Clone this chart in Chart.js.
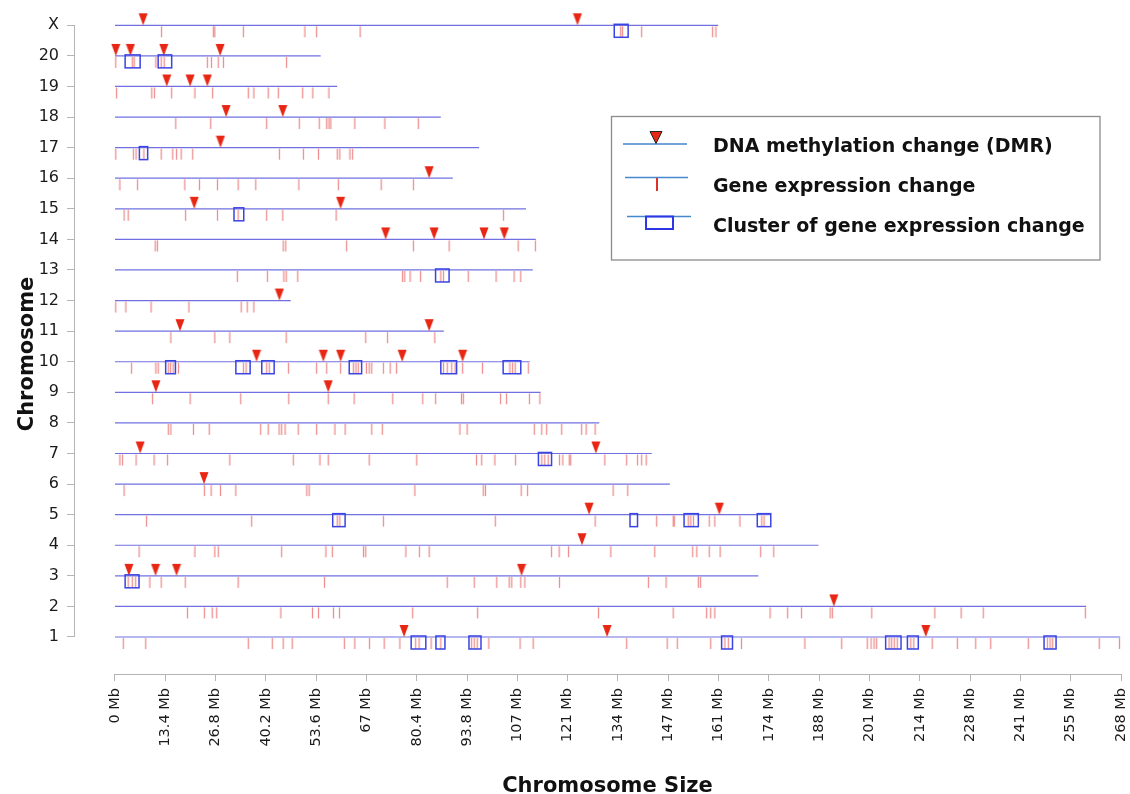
<!DOCTYPE html>
<html>
  <head>
    <meta charset="UTF-8" />
    <script src="https://cdn.jsdelivr.net/npm/chart.js"></script>
    <style>
      body { margin: 0; background: #fff; }
    </style>
  </head>
  <body>
    <canvas id="chromChart" width="1130" height="794"></canvas>
    <script>
      // chromosome order on the y axis (1 at the bottom, X at the top)
      const chromosomes = ["1", "2", "3", "4", "5", "6", "7", "8", "9", "10",
        "11", "12", "13", "14", "15", "16", "17", "18", "19", "20", "X"];
      const chromLengths = [267.8, 258.7, 171.4, 187.4, 174.7, 147.8, 143.0, 129.0,
        113.4, 110.5, 87.6, 46.8, 111.3, 112.1, 109.5, 90.0, 97.0, 86.8, 59.2, 54.8, 160.7];

      const xTickValues = [0, 13.4, 26.8, 40.2, 53.6, 67, 80.4, 93.8, 107.2, 120.6, 134,
        147.4, 160.8, 174.2, 187.6, 201, 214.4, 227.8, 241.2, 254.6, 268];
      const xTickLabels = ["0 Mb", "13.4 Mb", "26.8 Mb", "40.2 Mb", "53.6 Mb", "67 Mb",
        "80.4 Mb", "93.8 Mb", "107 Mb", "121 Mb", "134 Mb", "147 Mb", "161 Mb", "174 Mb",
        "188 Mb", "201 Mb", "214 Mb", "228 Mb", "241 Mb", "255 Mb", "268 Mb"];

      // DNA methylation change (DMR), Mb, one list per chromosome
      const dmrSites = [
        [77.0, 131.1, 216.0],
        [191.5],
        [3.7, 10.8, 16.4, 108.3],
        [124.4],
        [126.3, 161.0],
        [23.7],
        [6.7, 128.1],
        [],
        [10.9, 56.8],
        [37.7, 55.5, 60.1, 76.5, 92.6],
        [17.3, 83.7],
        [43.8],
        [],
        [72.1, 85.0, 98.3, 103.7],
        [21.1, 60.1],
        [83.7],
        [28.1],
        [29.6, 44.7],
        [13.8, 20.0, 24.6],
        [0.2, 4.1, 13.0, 28.0],
        [7.5, 123.2]
      ];

      // gene expression change, Mb
      const geneChanges = [
        [2.2, 8.2, 35.5, 41.9, 44.8, 47.2, 61.1, 63.9, 67.8, 71.7, 75.9, 80.1, 81.0, 84.2,
          86.8, 95.0, 95.7, 96.5, 99.6, 107.9, 111.4, 136.3, 147.1, 149.8, 158.7, 162.5,
          163.4, 166.9, 183.8, 193.6, 200.4, 201.4, 202.2, 202.9, 206.2, 206.9, 207.6,
          208.4, 212.0, 212.8, 217.7, 224.4, 229.3, 233.3, 243.3, 248.4, 249.1, 249.8,
          262.2, 267.6],
        [19.3, 23.8, 25.9, 27.1, 44.2, 52.6, 54.2, 58.2, 59.8, 79.3, 96.6, 128.8, 148.7,
          157.6, 158.7, 159.8, 174.5, 179.2, 182.9, 190.5, 191.1, 201.6, 218.4, 225.4,
          231.3, 258.5],
        [3.5, 4.6, 5.5, 9.3, 12.3, 18.7, 32.8, 55.8, 88.5, 95.7, 101.7, 105.0, 105.7, 108.1,
          109.2, 118.4, 142.1, 146.8, 155.4, 156.0],
        [6.4, 21.3, 26.6, 27.5, 44.4, 56.2, 57.9, 66.2, 66.8, 77.5, 81.1, 83.7, 116.3, 118.3,
          120.8, 132.1, 143.8, 153.9, 155.0, 158.3, 161.2, 172.0, 175.5],
        [8.4, 36.4, 59.2, 59.9, 71.5, 101.3, 127.9, 144.3, 148.7, 149.0, 152.7, 153.4, 154.1,
          158.3, 159.8, 166.5, 172.3, 172.9],
        [2.4, 23.8, 25.6, 28.1, 32.2, 51.1, 51.7, 79.9, 98.1, 98.7, 108.2, 109.9, 132.7, 136.6],
        [1.3, 2.0, 5.6, 10.4, 14.0, 30.6, 47.5, 54.6, 56.8, 67.7, 80.4, 96.3, 97.7, 101.2,
          106.7, 113.7, 114.5, 115.4, 118.4, 119.3, 121.0, 121.4, 130.5, 136.3, 139.2, 140.3,
          141.5],
        [14.2, 14.9, 20.9, 25.1, 38.8, 40.8, 43.7, 44.4, 45.3, 48.8, 53.7, 58.6, 61.3, 68.4,
          71.2, 91.9, 93.8, 111.7, 113.7, 115.0, 119.0, 124.3, 125.5, 127.9],
        [10.0, 20.0, 33.5, 46.3, 56.8, 63.7, 74.0, 82.0, 85.4, 92.3, 92.8, 102.7, 104.3,
          110.4, 113.2],
        [4.4, 10.9, 11.5, 14.2, 14.8, 15.5, 16.9, 34.2, 34.9, 40.4, 41.1, 46.2, 53.7, 56.4,
          60.1, 63.5, 64.2, 64.8, 67.0, 67.7, 68.4, 71.5, 73.3, 75.0, 87.5, 88.5, 89.7, 90.6,
          92.6, 97.9, 105.2, 105.9, 106.6, 110.1],
        [14.9, 26.6, 30.6, 45.6, 66.8, 72.6, 85.2],
        [0.2, 2.9, 9.6, 19.7, 33.6, 35.2, 37.0],
        [32.6, 40.6, 45.0, 45.6, 48.7, 76.6, 77.2, 78.6, 81.4, 86.8, 87.5, 94.1, 101.5,
          106.3, 108.1],
        [10.7, 11.3, 44.8, 45.5, 61.7, 79.5, 89.0, 107.4, 112.0],
        [2.4, 3.5, 18.8, 27.3, 32.8, 40.4, 44.7, 58.9, 103.5],
        [1.3, 6.0, 18.6, 22.5, 27.3, 32.8, 37.5, 49.0, 59.5, 70.9, 79.5],
        [0.2, 4.9, 5.6, 7.7, 12.3, 15.4, 16.4, 17.6, 20.7, 43.8, 50.2, 54.2, 59.2, 59.9,
          62.6, 63.3],
        [16.2, 25.5, 40.4, 49.1, 54.4, 56.4, 57.0, 57.5, 63.9, 71.9, 80.8],
        [0.4, 9.8, 10.5, 15.1, 21.3, 26.0, 35.5, 37.0, 40.8, 43.5, 50.0, 52.7, 57.0],
        [0.2, 4.6, 5.1, 10.9, 12.3, 13.1, 24.6, 25.7, 27.5, 28.9, 45.7],
        [12.4, 26.2, 26.6, 34.2, 50.6, 53.7, 65.3, 134.7, 135.2, 140.3, 159.2, 160.1]
      ];

      // clusters of gene expression change, [start, end] in Mb
      const geneClusters = [
        [[78.9, 82.8], [85.5, 87.9], [94.3, 97.5], [161.6, 164.5], [205.3, 209.4],
          [211.1, 214.0], [247.5, 250.7]],
        [],
        [[2.7, 6.4]],
        [],
        [[58.0, 61.3], [137.2, 139.2], [151.6, 155.4], [171.1, 174.7]],
        [],
        [[112.8, 116.3]],
        [],
        [],
        [[13.5, 16.1], [32.2, 36.0], [39.1, 42.4], [62.4, 65.7], [86.8, 91.0], [103.4, 108.1]],
        [],
        [],
        [[85.4, 89.0]],
        [],
        [[31.7, 34.3]],
        [],
        [[6.5, 8.7]],
        [],
        [],
        [[2.7, 6.7], [11.5, 15.1]],
        [[133.0, 136.7]]
      ];

      const lineColor = "rgb(112,112,226)";
      const dmrColor = "rgb(232,38,20)";
      const geneColor = "rgba(226,70,70,0.6)";
      const boxColor = "rgb(58,68,226)";
      const axisColor = "rgb(180,180,180)";

      // marker images: the centre of each image sits on the chromosome line
      const triangleImg = document.createElement("canvas");
      triangleImg.width = 10;
      triangleImg.height = 26;
      let c = triangleImg.getContext("2d");
      c.fillStyle = dmrColor;
      c.beginPath();
      c.moveTo(0.5, 1);
      c.lineTo(9.5, 1);
      c.lineTo(5, 13);
      c.closePath();
      c.fill();

      const tickImg = document.createElement("canvas");
      tickImg.width = 3;
      tickImg.height = 26;
      c = tickImg.getContext("2d");
      c.strokeStyle = geneColor;
      c.lineWidth = 1.3;
      c.beginPath();
      c.moveTo(1.5, 14);
      c.lineTo(1.5, 25);
      c.stroke();

      const dmrPoints = [];
      const genePoints = [];
      dmrSites.forEach((list, i) => list.forEach((pos) => dmrPoints.push({ x: pos, y: i + 1 })));
      geneChanges.forEach((list, i) => list.forEach((pos) => genePoints.push({ x: pos, y: i + 1 })));

      const chromLines = chromLengths.map((len, i) => ({
        label: "chr" + chromosomes[i],
        data: [{ x: 0, y: i + 1 }, { x: len, y: i + 1 }],
        showLine: true,
        borderColor: lineColor,
        borderWidth: 1.2,
        pointRadius: 0,
      }));

      const clusterBoxes = {
        id: "clusterBoxes",
        afterDatasetsDraw(chart) {
          const { ctx, scales: { x, y } } = chart;
          ctx.save();
          ctx.strokeStyle = boxColor;
          ctx.lineWidth = 1.5;
          geneClusters.forEach((list, i) => {
            const yp = y.getPixelForValue(i + 1);
            list.forEach(([a, b]) => {
              const x1 = x.getPixelForValue(a);
              const x2 = x.getPixelForValue(b);
              ctx.strokeRect(x1, yp - 1, x2 - x1, 13);
            });
          });
          ctx.restore();
        },
      };

      // R style axes: the lines only run from the first to the last tick
      const axisLines = {
        id: "axisLines",
        beforeDatasetsDraw(chart) {
          const { ctx, chartArea, scales: { x, y } } = chart;
          ctx.save();
          ctx.strokeStyle = axisColor;
          ctx.lineWidth = 1;
          ctx.beginPath();
          ctx.moveTo(x.getPixelForValue(0), chartArea.bottom + 0.5);
          ctx.lineTo(x.getPixelForValue(268), chartArea.bottom + 0.5);
          ctx.moveTo(chartArea.left - 0.5, y.getPixelForValue(1));
          ctx.lineTo(chartArea.left - 0.5, y.getPixelForValue(21));
          ctx.stroke();
          ctx.restore();
        },
      };

      const axisTitles = {
        id: "axisTitles",
        afterDraw(chart) {
          const ctx = chart.ctx;
          ctx.save();
          ctx.fillStyle = "#111";
          ctx.font = "bold 21px 'DejaVu Sans'";
          ctx.textAlign = "center";
          ctx.textBaseline = "alphabetic";
          ctx.fillText("Chromosome Size", 607.5, 791.5);
          ctx.translate(32.5, 354);
          ctx.rotate(-Math.PI / 2);
          ctx.fillText("Chromosome", 0, 0);
          ctx.restore();
        },
      };

      const legendBox = {
        id: "legendBox",
        afterDraw(chart) {
          const ctx = chart.ctx;
          ctx.save();
          ctx.strokeStyle = "rgb(140,140,140)";
          ctx.lineWidth = 1.3;
          ctx.strokeRect(611.5, 116.5, 488.5, 143.5);

          ctx.strokeStyle = "rgb(70,135,205)";
          ctx.lineWidth = 1.3;
          ctx.beginPath();
          ctx.moveTo(623, 144); ctx.lineTo(687, 144);
          ctx.moveTo(625, 177.5); ctx.lineTo(688, 177.5);
          ctx.moveTo(627, 216.5); ctx.lineTo(691, 216.5);
          ctx.stroke();

          ctx.fillStyle = dmrColor;
          ctx.strokeStyle = "#222";
          ctx.lineWidth = 1;
          ctx.beginPath();
          ctx.moveTo(650, 131.5); ctx.lineTo(662, 131.5); ctx.lineTo(656, 143.5);
          ctx.closePath();
          ctx.fill();
          ctx.stroke();

          ctx.strokeStyle = "rgb(220,50,40)";
          ctx.lineWidth = 2;
          ctx.beginPath();
          ctx.moveTo(657, 178); ctx.lineTo(657, 191);
          ctx.stroke();

          ctx.strokeStyle = "rgb(45,55,230)";
          ctx.lineWidth = 2;
          ctx.strokeRect(646, 216.5, 27, 12.5);

          ctx.fillStyle = "#111";
          ctx.font = "bold 19px 'DejaVu Sans'";
          ctx.textAlign = "left";
          ctx.textBaseline = "alphabetic";
          ctx.fillText("DNA methylation change (DMR)", 713, 151.7);
          ctx.fillText("Gene expression change", 713, 191.7);
          ctx.fillText("Cluster of gene expression change", 713, 232);
          ctx.restore();
        },
      };

      new Chart(document.getElementById("chromChart"), {
        type: "scatter",
        data: {
          datasets: [
            { label: "DMR", data: dmrPoints, pointStyle: triangleImg, pointRadius: 5 },
            { label: "Gene expression", data: genePoints, pointStyle: tickImg, pointRadius: 5 },
            ...chromLines,
          ],
        },
        options: {
          responsive: false,
          animation: false,
          devicePixelRatio: 1,
          events: [],
          layout: { padding: { top: 10, right: 9, left: 0, bottom: 0 } },
          plugins: { legend: { display: false }, tooltip: { enabled: false } },
          scales: {
            x: {
              type: "linear",
              min: -10.656,
              max: 268,
              afterBuildTicks: (scale) => {
                scale.ticks = xTickValues.map((v) => ({ value: v }));
              },
              afterFit: (scale) => {
                scale.height = 120;
                scale.paddingLeft = 0;
                scale.paddingRight = 0;
              },
              ticks: {
                autoSkip: false,
                minRotation: 90,
                maxRotation: 90,
                padding: 7,
                color: "#1a1a1a",
                font: { family: "'DejaVu Sans'", size: 14.5 },
                callback: (value, index) => xTickLabels[index],
              },
              grid: { drawOnChartArea: false, tickLength: 7, color: axisColor },
              border: { display: false },
            },
            y: {
              type: "linear",
              min: -0.21,
              max: 21.5,
              afterBuildTicks: (scale) => {
                scale.ticks = chromosomes.map((name, i) => ({ value: i + 1 }));
              },
              afterFit: (scale) => {
                scale.width = 75;
                scale.paddingTop = 0;
                scale.paddingBottom = 0;
              },
              ticks: {
                autoSkip: false,
                padding: 8,
                color: "#1a1a1a",
                font: { family: "'DejaVu Sans'", size: 16 },
                callback: (value) => chromosomes[value - 1],
              },
              grid: { drawOnChartArea: false, tickLength: 8, color: axisColor },
              border: { display: false },
            },
          },
        },
        plugins: [axisLines, clusterBoxes, axisTitles, legendBox],
      });
    </script>
  </body>
</html>
